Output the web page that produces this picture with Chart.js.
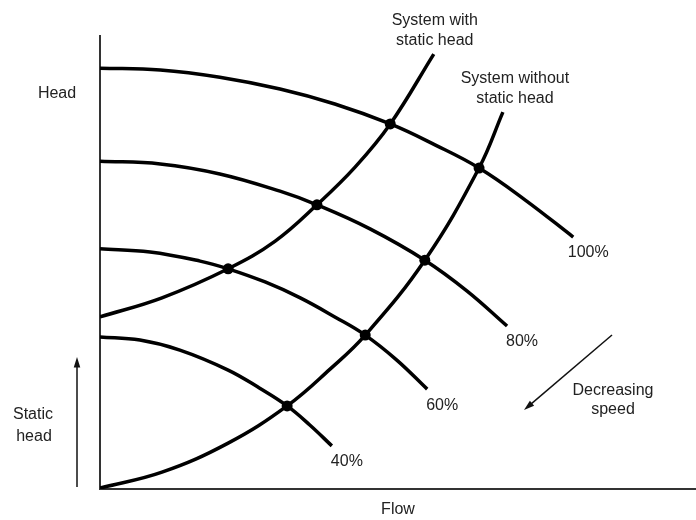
<!DOCTYPE html>
<html>
<head>
<meta charset="utf-8">
<script src="https://cdn.jsdelivr.net/npm/chart.js@4.4.0/dist/chart.umd.min.js"></script>
<style>
  html, body { margin: 0; padding: 0; background: #fff; }
  #wrap { width: 696px; height: 520px; }
</style>
</head>
<body>
<div id="wrap"><canvas id="pumpChart"></canvas></div>
<script>
// pump curves at different speeds (flow, head)
const speeds = ['100%', '80%', '60%', '40%'];
const pumpFlow = [
    [0, 10.1, 20.1, 30.2, 39.4, 48.7, 56.2, 63.6, 71.3, 79.4],
    [0, 10.1, 20.1, 30.2, 36.4, 45.3, 54.5, 61.6, 68.3],
    [0, 8.4, 16.8, 21.5, 27.7, 33.6, 39.4, 44.5, 49.8, 54.9],
    [0, 6.7, 13.4, 21.5, 26.8, 31.4, 35.2, 38.9]
];
const pumpHead = [
    [92.7, 92.3, 90.7, 88.1, 84.8, 80.4, 75.8, 70.7, 63.7, 55.5],
    [72.2, 71.6, 69.4, 65.6, 62.6, 57.3, 50.4, 43.6, 35.9],
    [52.9, 52.2, 50.2, 48.5, 45.6, 42.1, 37.9, 33.9, 28.4, 22.0],
    [33.5, 32.8, 30.6, 26.2, 22.2, 18.3, 14.1, 9.5]
];

// system curves
const staticFlow = [0, 10.4, 21.5, 29.4, 36.4, 42.8, 48.7, 56.0];
const staticHead = [37.9, 42.1, 48.5, 54.6, 62.6, 70.9, 80.4, 95.8];
const noStaticFlow = [0, 10.4, 21.5, 31.4, 38.6, 44.5, 54.5, 63.6, 67.6];
const noStaticHead = [0.2, 3.7, 10.1, 18.3, 26.4, 33.9, 50.4, 70.7, 83.0];

// operating points (intersections)
const opFlow = [48.7, 63.6, 36.4, 54.5, 21.5, 44.5, 31.4];
const opHead = [80.4, 70.7, 62.6, 50.4, 48.5, 33.9, 18.3];

const toPts = (xs, ys) => xs.map((x, i) => ({ x: x, y: ys[i] }));

const lineStyle = {
    borderColor: '#000',
    borderWidth: 3.5,
    pointRadius: 0,
    fill: false,
    tension: 0.4
};

const datasets = speeds.map((s, i) => Object.assign({
    label: s,
    data: toPts(pumpFlow[i], pumpHead[i])
}, lineStyle));

datasets.push(Object.assign({ label: 'System with static head', data: toPts(staticFlow, staticHead) }, lineStyle));
datasets.push(Object.assign({ label: 'System without static head', data: toPts(noStaticFlow, noStaticHead) }, lineStyle));
datasets.push({
    label: 'points',
    data: toPts(opFlow, opHead),
    showLine: false,
    pointRadius: 5.5,
    pointBackgroundColor: '#000',
    pointBorderWidth: 0
});

function arrow(ctx, x1, y1, x2, y2) {
    const a = Math.atan2(y2 - y1, x2 - x1);
    ctx.beginPath();
    ctx.moveTo(x1, y1);
    ctx.lineTo(x2 - 6 * Math.cos(a), y2 - 6 * Math.sin(a));
    ctx.stroke();
    ctx.beginPath();
    ctx.moveTo(x2, y2);
    ctx.lineTo(x2 - 11 * Math.cos(a - 0.3), y2 - 11 * Math.sin(a - 0.3));
    ctx.lineTo(x2 - 11 * Math.cos(a + 0.3), y2 - 11 * Math.sin(a + 0.3));
    ctx.closePath();
    ctx.fill();
}

// plain axis lines (no ticks)
const axesPlugin = {
    id: 'axesPlugin',
    beforeDatasetsDraw: function (chart) {
        const ctx = chart.ctx;
        const area = chart.chartArea;
        ctx.save();
        ctx.strokeStyle = '#333';
        ctx.lineWidth = 2;
        ctx.beginPath();
        ctx.moveTo(area.left, area.top);
        ctx.lineTo(area.left, area.bottom);
        ctx.lineTo(chart.width, area.bottom);
        ctx.stroke();
        ctx.restore();
    }
};

const textPlugin = {
    id: 'textPlugin',
    afterDraw: function (chart) {
        const ctx = chart.ctx;
        const xs = chart.scales.x;
        const ys = chart.scales.y;
        const area = chart.chartArea;
        ctx.save();
        ctx.fillStyle = '#222';
        ctx.strokeStyle = '#111';
        ctx.font = '16px "Liberation Sans", Arial, sans-serif';
        ctx.textAlign = 'center';
        ctx.textBaseline = 'middle';

        // speed labels next to the curve ends
        speeds.forEach((s, i) => {
            const n = pumpFlow[i].length - 1;
            const px = xs.getPixelForValue(pumpFlow[i][n]);
            const py = ys.getPixelForValue(pumpHead[i][n]);
            ctx.fillText(s, px + 15, py + 16);
        });

        // system curve labels above their ends
        let px = xs.getPixelForValue(staticFlow[staticFlow.length - 1]);
        let py = ys.getPixelForValue(staticHead[staticHead.length - 1]);
        ctx.fillText('System with', px + 1, py - 33);
        ctx.fillText('static head', px + 1, py - 13);
        px = xs.getPixelForValue(noStaticFlow[noStaticFlow.length - 1]);
        py = ys.getPixelForValue(noStaticHead[noStaticHead.length - 1]);
        ctx.fillText('System without', px + 12, py - 34);
        ctx.fillText('static head', px + 12, py - 14);

        // axis names
        ctx.fillText('Head', area.left - 43, area.top + 59);
        ctx.fillText('Flow', 398, area.bottom + 21);
        ctx.fillText('Static', area.left - 67, area.bottom - 74);
        ctx.fillText('head', area.left - 66, area.bottom - 52);
        ctx.fillText('Decreasing', 613, 391);
        ctx.fillText('speed', 613, 410);

        // arrows
        ctx.lineWidth = 1.5;
        ctx.fillStyle = '#111';
        arrow(ctx, area.left - 23, area.bottom - 2, area.left - 23, area.bottom - 132);
        arrow(ctx, 612, 335, 524, 410);
        ctx.restore();
    }
};

new Chart(document.getElementById('pumpChart'), {
    type: 'line',
    data: { datasets: datasets },
    options: {
        responsive: true,
        maintainAspectRatio: false,
        animation: false,
        layout: { autoPadding: false, padding: { left: 100, top: 35, right: 0, bottom: 31 } },
        plugins: {
            legend: { display: false },
            tooltip: { enabled: false }
        },
        scales: {
            x: { type: 'linear', min: 0, max: 100, display: false },
            y: { type: 'linear', min: 0, max: 100, display: false }
        }
    },
    plugins: [axesPlugin, textPlugin]
});
</script>
</body>
</html>
